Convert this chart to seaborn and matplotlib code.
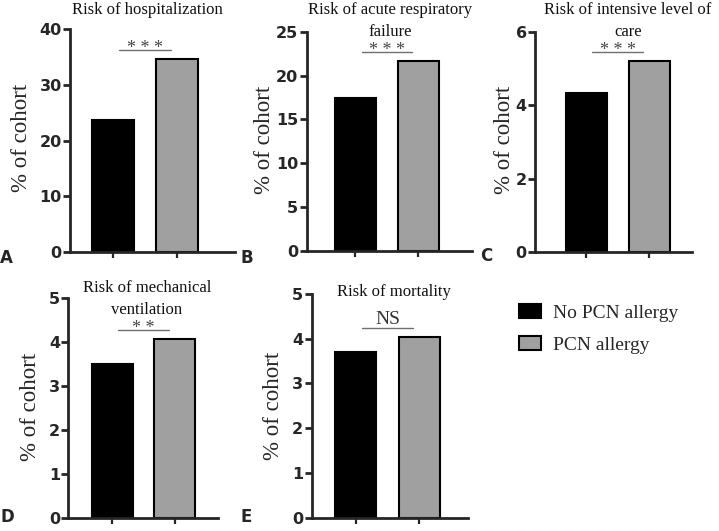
import matplotlib
matplotlib.use("Agg")
import matplotlib.pyplot as plt
import seaborn as sns
import pandas as pd
from matplotlib.patches import Patch

# ---------------- data ----------------
groups = ["No PCN allergy", "PCN allergy"]
titles = ["Risk of hospitalization",
          "Risk of acute respiratory\nfailure",
          "Risk of intensive level of\ncare",
          "Risk of mechanical\nventilation",
          "Risk of mortality"]
panel_letters = ["A", "B", "C", "D", "E"]
hospitalization = [23.7, 34.7]
respiratory_failure = [17.4, 21.7]
intensive_care = [4.33, 5.21]
mechanical_ventilation = [3.51, 4.08]
mortality = [3.71, 4.03]
significance = ["* * *", "* * *", "* * *", "* *", "NS"]
y_max = [40, 25, 6, 5, 5]
y_step = [10, 5, 2, 1, 1]
ylabel = "% of cohort"

series = [hospitalization, respiratory_failure, intensive_care,
          mechanical_ventilation, mortality]
colors = ["#000000", "#a0a0a0"]

# ---------------- layout (pixels) ----------------
W, H = 719, 531
# axes rect: left, top, right, bottom
rects = [(70, 29.3, 235, 252), (306.7, 31.7, 472, 250.7), (535, 31.7, 692, 252.3),
         (68.3, 298.3, 218, 518.3), (311.7, 294, 467.7, 517.7)]
xlims = [(-0.67, 1.9), (-0.77, 1.85), (-0.81, 1.68), (-0.70, 1.69), (-0.70, 1.77)]
title_pos = [(147.5, 1.5), (390.5, 1.5), (628, 1.5), (147, 280), (394, 283.5)]
ylabel_pos = [(22, 138.3), (265, 140), (504, 140), (31, 407), (273.5, 406)]
letter_pos = [(0, 258), (241, 258), (480, 256), (0, 517), (240, 517)]

sns.set_style("ticks")
plt.rcParams["font.family"] = ["DejaVu Sans"]
serif = "Liberation Serif"

fig = plt.figure(figsize=(W / 100, H / 100), dpi=100)


def fx(px):
    return px / W


def fy(py):
    return 1 - py / H


for i, vals in enumerate(series):
    l, t, r, b = rects[i]
    ax = fig.add_axes([fx(l), fy(b), (r - l) / W, (b - t) / H])
    df = pd.DataFrame({"group": groups, "value": vals})
    sns.barplot(data=df, x="group", y="value", hue="group", palette=colors,
                width=0.65, edgecolor="black", linewidth=1.5, legend=False,
                ax=ax, zorder=2)
    ax.set_xlim(*xlims[i])
    ax.set_ylim(0, y_max[i])
    ax.set_yticks(range(0, y_max[i] + 1, y_step[i]))
    ax.set_xticks([0, 1])
    ax.set_xticklabels(["", ""])
    ax.set_xlabel("")
    for s in ["top", "right"]:
        ax.spines[s].set_visible(False)
    for s in ["left", "bottom"]:
        ax.spines[s].set_linewidth(2.0)
        ax.spines[s].set_zorder(3)
    ax.tick_params(axis="y", length=5, width=2.0, pad=1, labelsize=11.5)
    ax.tick_params(axis="x", length=4.5, width=1.6)
    for lab in ax.get_yticklabels():
        lab.set_fontweight("bold")
    ax.set_ylabel(ylabel, fontfamily=serif, fontsize=16.5, va="center")
    lx, ly = ylabel_pos[i]
    ax.yaxis.set_label_coords((lx - l) / (r - l), (b - ly) / (b - t))

    # significance bar
    top = max(vals)
    yline = top + 0.04 * y_max[i]
    ax.plot([0.1, 0.9], [yline, yline], color="#707070", lw=1.0, clip_on=False, zorder=4)
    if significance[i] == "NS":
        ax.annotate(significance[i], xy=(0.5, yline), xytext=(0, 3),
                    textcoords="offset points", ha="center", va="baseline",
                    fontfamily=serif, fontsize=14, color="#333333")
    else:
        ax.annotate(significance[i], xy=(0.5, yline), xytext=(0, -2.5),
                    textcoords="offset points", ha="center", va="baseline",
                    fontfamily=serif, fontsize=13, color="#444444")

    # title
    tx, ty = title_pos[i]
    fig.text(fx(tx), fy(ty), titles[i], ha="center", va="top", multialignment="center",
             fontfamily=serif, fontsize=12, linespacing=1.5, color="#111111")
    # panel letter
    px, py = letter_pos[i]
    fig.text(fx(px), fy(py), panel_letters[i], ha="left", va="center",
             fontweight="bold", fontsize=12)

handles = [Patch(facecolor=c, edgecolor="black", linewidth=1.5, label=g)
           for c, g in zip(colors, groups)]
fig.legend(handles=handles, loc="upper left", bbox_to_anchor=(fx(519), fy(304)),
           frameon=False, prop={"family": serif, "size": 14}, handlelength=1.15,
           handleheight=0.72, handletextpad=0.6, labelspacing=0.75,
           borderpad=0, borderaxespad=0)

fig.savefig("out.png", dpi=100)
